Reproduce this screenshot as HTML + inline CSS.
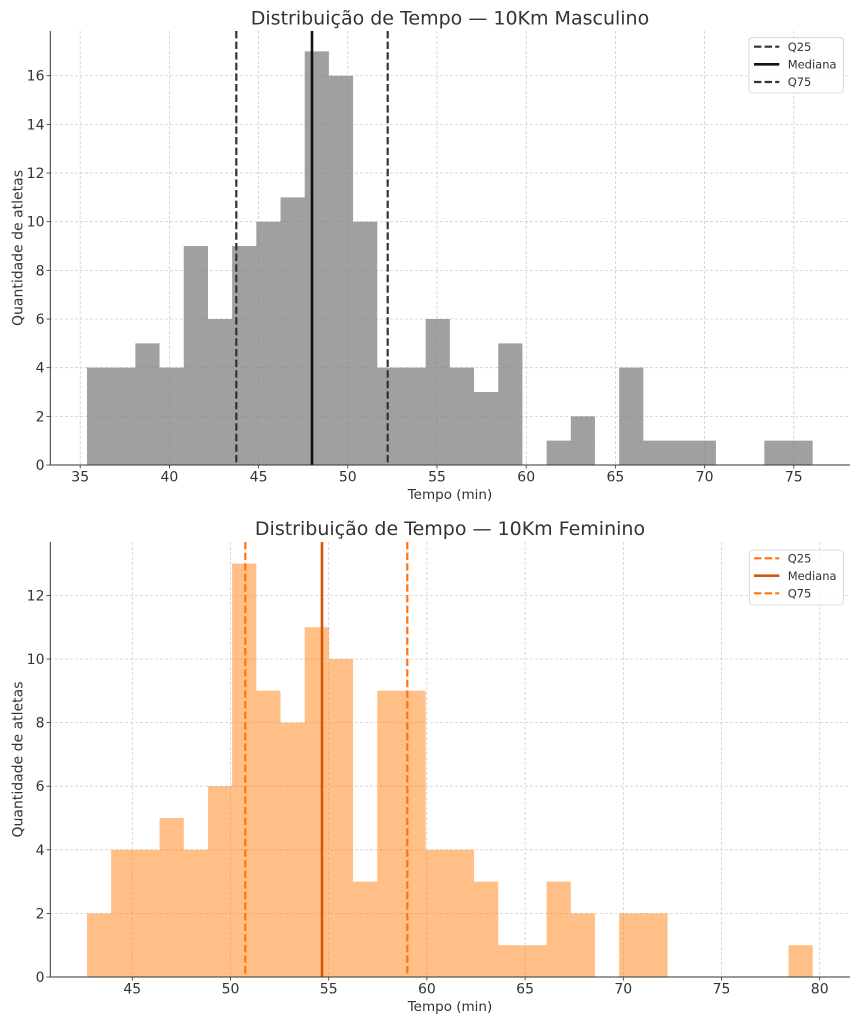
<!DOCTYPE html>
<html>
<head>
<meta charset="utf-8">
<style>
html,body{margin:0;padding:0;background:#fff;}
svg{display:block;}
text{font-family:"DejaVu Sans","Liberation Sans",sans-serif;fill:#333;}
</style>
</head>
<body>
<svg width="858" height="1024" viewBox="0 0 858 1024" xmlns="http://www.w3.org/2000/svg">
<rect x="0" y="0" width="858" height="1024" fill="#fff"/>

<!-- ============ TOP CHART ============ -->
<g stroke="#cfcfcf" stroke-width="0.8" stroke-dasharray="3 2" fill="none">
  <line x1="80.2" y1="31" x2="80.2" y2="465"/>
  <line x1="169.4" y1="31" x2="169.4" y2="465"/>
  <line x1="258.6" y1="31" x2="258.6" y2="465"/>
  <line x1="347.8" y1="31" x2="347.8" y2="465"/>
  <line x1="437.0" y1="31" x2="437.0" y2="465"/>
  <line x1="526.2" y1="31" x2="526.2" y2="465"/>
  <line x1="615.4" y1="31" x2="615.4" y2="465"/>
  <line x1="704.6" y1="31" x2="704.6" y2="465"/>
  <line x1="793.8" y1="31" x2="793.8" y2="465"/>
  <line x1="50" y1="416.34" x2="850" y2="416.34"/>
  <line x1="50" y1="367.68" x2="850" y2="367.68"/>
  <line x1="50" y1="319.02" x2="850" y2="319.02"/>
  <line x1="50" y1="270.36" x2="850" y2="270.36"/>
  <line x1="50" y1="221.7" x2="850" y2="221.7"/>
  <line x1="50" y1="173.04" x2="850" y2="173.04"/>
  <line x1="50" y1="124.38" x2="850" y2="124.38"/>
  <line x1="50" y1="75.72" x2="850" y2="75.72"/>
</g>
<g fill="#7f7f7f" fill-opacity="0.74">
  <path d="M87,465 V367.68 H135.38 V343.35 H159.57 V367.68 H183.76 V246.03 H207.95 V319.02 H232.14 V246.03 H256.33 V221.7 H280.52 V197.37 H304.71 V51.39 H328.90 V75.72 H353.09 V221.7 H377.28 V367.68 H425.66 V319.02 H449.85 V367.68 H474.04 V392.01 H498.23 V343.35 H522.42 V465 Z"/>
  <path d="M546.61,465 V440.67 H570.80 V416.34 H594.99 V465 Z"/>
  <path d="M619.18,465 V367.68 H643.37 V440.67 H715.94 V465 Z"/>
  <path d="M764.32,465 V440.67 H812.70 V465 Z"/>
</g>
<line x1="236.3" y1="31" x2="236.3" y2="465" stroke="#333" stroke-width="2.2" stroke-dasharray="7.4 3.2"/>
<line x1="312" y1="31" x2="312" y2="465" stroke="#111" stroke-width="2.6"/>
<line x1="387.7" y1="31" x2="387.7" y2="465" stroke="#333" stroke-width="2.2" stroke-dasharray="7.4 3.2"/>

<!-- spines -->
<line x1="50.3" y1="31" x2="50.3" y2="465.5" stroke="#333" stroke-width="1"/>
<line x1="50" y1="465" x2="850" y2="465" stroke="#333" stroke-width="1"/>
<!-- ticks -->
<g stroke="#333" stroke-width="0.8">
  <line x1="80.2" y1="465" x2="80.2" y2="468.5"/>
  <line x1="169.4" y1="465" x2="169.4" y2="468.5"/>
  <line x1="258.6" y1="465" x2="258.6" y2="468.5"/>
  <line x1="347.8" y1="465" x2="347.8" y2="468.5"/>
  <line x1="437.0" y1="465" x2="437.0" y2="468.5"/>
  <line x1="526.2" y1="465" x2="526.2" y2="468.5"/>
  <line x1="615.4" y1="465" x2="615.4" y2="468.5"/>
  <line x1="704.6" y1="465" x2="704.6" y2="468.5"/>
  <line x1="793.8" y1="465" x2="793.8" y2="468.5"/>
  <line x1="46.5" y1="465" x2="50" y2="465"/>
  <line x1="46.5" y1="416.34" x2="50" y2="416.34"/>
  <line x1="46.5" y1="367.68" x2="50" y2="367.68"/>
  <line x1="46.5" y1="319.02" x2="50" y2="319.02"/>
  <line x1="46.5" y1="270.36" x2="50" y2="270.36"/>
  <line x1="46.5" y1="221.7" x2="50" y2="221.7"/>
  <line x1="46.5" y1="173.04" x2="50" y2="173.04"/>
  <line x1="46.5" y1="124.38" x2="50" y2="124.38"/>
  <line x1="46.5" y1="75.72" x2="50" y2="75.72"/>
</g>
<g font-size="14" text-anchor="middle">
  <text x="80.2" y="481.5">35</text>
  <text x="169.4" y="481.5">40</text>
  <text x="258.6" y="481.5">45</text>
  <text x="347.8" y="481.5">50</text>
  <text x="437.0" y="481.5">55</text>
  <text x="526.2" y="481.5">60</text>
  <text x="615.4" y="481.5">65</text>
  <text x="704.6" y="481.5">70</text>
  <text x="793.8" y="481.5">75</text>
</g>
<g font-size="14" text-anchor="end">
  <text x="44.5" y="470">0</text>
  <text x="44.5" y="421.3">2</text>
  <text x="44.5" y="372.7">4</text>
  <text x="44.5" y="324">6</text>
  <text x="44.5" y="275.4">8</text>
  <text x="44.5" y="226.7">10</text>
  <text x="44.5" y="178">12</text>
  <text x="44.5" y="129.4">14</text>
  <text x="44.5" y="80.7">16</text>
</g>
<text x="450" y="499" font-size="13.5" text-anchor="middle">Tempo (min)</text>
<text transform="translate(22.5,248) rotate(-90)" font-size="14" text-anchor="middle">Quantidade de atletas</text>
<text x="450" y="24.5" font-size="19" text-anchor="middle">Distribuição de Tempo — 10Km Masculino</text>

<!-- legend top -->
<rect x="749" y="37.7" width="94.3" height="55.3" rx="3" ry="3" fill="#fff" fill-opacity="0.85" stroke="#d0d0d0" stroke-width="0.8"/>
<line x1="754" y1="46.7" x2="779.3" y2="46.7" stroke="#333" stroke-width="2.2" stroke-dasharray="7.4 3.2"/>
<line x1="754" y1="64.3" x2="779.3" y2="64.3" stroke="#111" stroke-width="2.6"/>
<line x1="754" y1="82" x2="779.3" y2="82" stroke="#333" stroke-width="2.2" stroke-dasharray="7.4 3.2"/>
<g font-size="11.5">
  <text x="787.7" y="50.8">Q25</text>
  <text x="787.7" y="68.4">Mediana</text>
  <text x="787.7" y="86.1">Q75</text>
</g>

<!-- ============ BOTTOM CHART ============ -->
<g stroke="#cfcfcf" stroke-width="0.8" stroke-dasharray="3 2" fill="none">
  <line x1="132.3" y1="542" x2="132.3" y2="977"/>
  <line x1="230.5" y1="542" x2="230.5" y2="977"/>
  <line x1="328.7" y1="542" x2="328.7" y2="977"/>
  <line x1="426.9" y1="542" x2="426.9" y2="977"/>
  <line x1="525.1" y1="542" x2="525.1" y2="977"/>
  <line x1="623.3" y1="542" x2="623.3" y2="977"/>
  <line x1="721.5" y1="542" x2="721.5" y2="977"/>
  <line x1="819.7" y1="542" x2="819.7" y2="977"/>
  <line x1="50" y1="913.4" x2="850" y2="913.4"/>
  <line x1="50" y1="849.8" x2="850" y2="849.8"/>
  <line x1="50" y1="786.2" x2="850" y2="786.2"/>
  <line x1="50" y1="722.6" x2="850" y2="722.6"/>
  <line x1="50" y1="659.0" x2="850" y2="659.0"/>
  <line x1="50" y1="595.4" x2="850" y2="595.4"/>
</g>
<g fill="#ff7f0e" fill-opacity="0.5">
  <path d="M87,977 V913.4 H111.19 V849.8 H159.57 V818.0 H183.76 V849.8 H207.95 V786.2 H232.14 V563.6 H256.33 V690.8 H280.52 V722.6 H304.71 V627.2 H328.90 V659.0 H353.09 V881.6 H377.28 V690.8 H425.66 V849.8 H474.04 V881.6 H498.23 V945.2 H546.61 V881.6 H570.80 V913.4 H594.99 V977 Z"/>
  <path d="M619.18,977 V913.4 H667.56 V977 Z"/>
  <path d="M788.51,977 V945.2 H812.70 V977 Z"/>
</g>
<line x1="245.3" y1="542" x2="245.3" y2="977" stroke="#ff7410" stroke-width="2.2" stroke-dasharray="7.4 3.2"/>
<line x1="322" y1="542" x2="322" y2="977" stroke="#d4580a" stroke-width="2.6"/>
<line x1="407.3" y1="542" x2="407.3" y2="977" stroke="#ff7410" stroke-width="2.2" stroke-dasharray="7.4 3.2"/>

<line x1="50.3" y1="542" x2="50.3" y2="977.5" stroke="#333" stroke-width="1"/>
<line x1="50" y1="977" x2="850" y2="977" stroke="#333" stroke-width="1"/>
<g stroke="#333" stroke-width="0.8">
  <line x1="132.3" y1="977" x2="132.3" y2="980.5"/>
  <line x1="230.5" y1="977" x2="230.5" y2="980.5"/>
  <line x1="328.7" y1="977" x2="328.7" y2="980.5"/>
  <line x1="426.9" y1="977" x2="426.9" y2="980.5"/>
  <line x1="525.1" y1="977" x2="525.1" y2="980.5"/>
  <line x1="623.3" y1="977" x2="623.3" y2="980.5"/>
  <line x1="721.5" y1="977" x2="721.5" y2="980.5"/>
  <line x1="819.7" y1="977" x2="819.7" y2="980.5"/>
  <line x1="46.5" y1="977" x2="50" y2="977"/>
  <line x1="46.5" y1="913.4" x2="50" y2="913.4"/>
  <line x1="46.5" y1="849.8" x2="50" y2="849.8"/>
  <line x1="46.5" y1="786.2" x2="50" y2="786.2"/>
  <line x1="46.5" y1="722.6" x2="50" y2="722.6"/>
  <line x1="46.5" y1="659.0" x2="50" y2="659.0"/>
  <line x1="46.5" y1="595.4" x2="50" y2="595.4"/>
</g>
<g font-size="14" text-anchor="middle">
  <text x="132.3" y="993.5">45</text>
  <text x="230.5" y="993.5">50</text>
  <text x="328.7" y="993.5">55</text>
  <text x="426.9" y="993.5">60</text>
  <text x="525.1" y="993.5">65</text>
  <text x="623.3" y="993.5">70</text>
  <text x="721.5" y="993.5">75</text>
  <text x="819.7" y="993.5">80</text>
</g>
<g font-size="14" text-anchor="end">
  <text x="44.5" y="982">0</text>
  <text x="44.5" y="918.4">2</text>
  <text x="44.5" y="854.8">4</text>
  <text x="44.5" y="791.2">6</text>
  <text x="44.5" y="727.6">8</text>
  <text x="44.5" y="664">10</text>
  <text x="44.5" y="600.4">12</text>
</g>
<text x="450" y="1011" font-size="13.5" text-anchor="middle">Tempo (min)</text>
<text transform="translate(22.5,759.5) rotate(-90)" font-size="14" text-anchor="middle">Quantidade de atletas</text>
<text x="450" y="535" font-size="19" text-anchor="middle">Distribuição de Tempo — 10Km Feminino</text>

<!-- legend bottom -->
<rect x="749.3" y="550" width="94" height="55" rx="3" ry="3" fill="#fff" fill-opacity="0.85" stroke="#d0d0d0" stroke-width="0.8"/>
<line x1="754" y1="558.3" x2="779.3" y2="558.3" stroke="#ff7410" stroke-width="2.2" stroke-dasharray="7.4 3.2"/>
<line x1="754" y1="575.7" x2="779.3" y2="575.7" stroke="#d4580a" stroke-width="2.6"/>
<line x1="754" y1="593.3" x2="779.3" y2="593.3" stroke="#ff7410" stroke-width="2.2" stroke-dasharray="7.4 3.2"/>
<g font-size="11.5">
  <text x="787.7" y="562.4">Q25</text>
  <text x="787.7" y="579.8">Mediana</text>
  <text x="787.7" y="597.4">Q75</text>
</g>
</svg>
</body>
</html>
